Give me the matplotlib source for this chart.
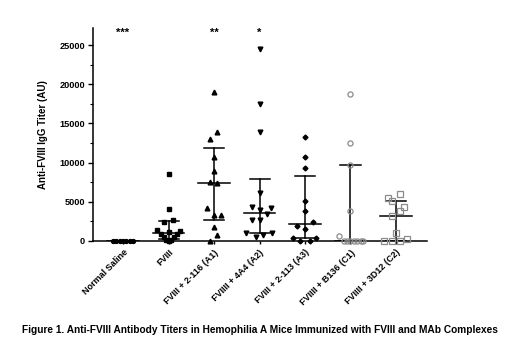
"""Anti-FVIII IgG titers per immunization group (scatter + median/IQR)."""

import matplotlib
matplotlib.use("Agg")
import matplotlib.pyplot as plt
from matplotlib.ticker import MultipleLocator
import numpy as np

plt.rcParams["font.family"] = ["Liberation Sans", "DejaVu Sans"]
plt.rcParams["font.weight"] = "bold"

groups = ["Normal Saline", "FVIII", "FVIII + 2-116 (A1)", "FVIIII + 4A4 (A2)",
          "FVIII + 2-113 (A3)", "FVIIII + B136 (C1)", "FVIIII + 3D12 (C2)"]

# titers (AU), with horizontal scatter offsets (category units)
saline_vals = [0, 0, 0, 0, 0, 0, 0]
saline_off = [-0.22, -0.15, -0.07, 0.0, 0.07, 0.15, 0.22]

fviii_vals = [8500, 4050, 2700, 2400, 1400, 1300, 1150, 900, 850, 500, 450, 150, 100, 50]
fviii_off = [0, 0, 0.09, -0.09, -0.25, 0.26, 0, -0.17, 0.19, -0.1, 0.12, -0.05, 0.05, 0]

a1_vals = [19000, 13860, 12970, 10750, 8970, 7560, 7360, 4170, 3320, 3320, 1820, 730, 0]
a1_off = [0, 0.07, -0.08, 0, 0, -0.08, 0.07, -0.16, 0, 0.16, 0, 0.07, -0.08]

a2_vals = [24450, 17440, 13860, 6080, 4300, 4170, 3950, 3440, 2680, 2680, 1060, 1000, 800, 470]
a2_off = [0, 0, 0, 0, -0.17, 0.26, 0, 0.17, -0.17, 0, -0.3, 0.28, 0.07, -0.08]

a3_vals = [13300, 10750, 9350, 5100, 3870, 2390, 1910, 1500, 420, 420, 0, 0]
a3_off = [0, 0, 0, 0, 0, 0.17, -0.18, 0, -0.26, 0.25, -0.1, 0.1]

c1_vals = [18750, 12460, 9730, 3830, 680, 0, 0, 0, 0, 0, 0, 0]
c1_off = [0, 0, 0, 0, -0.25, -0.15, -0.07, 0, 0.07, 0.15, 0.22, 0.28]

c2_vals = [6000, 5440, 5140, 4380, 3870, 3190, 980, 0, 0, 0, 210]
c2_off = [0.08, -0.18, -0.09, 0.17, 0.08, -0.09, 0, -0.26, -0.09, 0.08, 0.24]

# median and interquartile range drawn in the figure
medians = [0, 1000, 7400, 3600, 2200, 50, 3200]
q1 = [0, 200, 2650, 1050, 350, 0, 0]
q3 = [0, 2550, 11900, 7950, 8300, 9750, 5100]

stars = {0: "***", 2: "**", 3: "*"}

all_vals = [saline_vals, fviii_vals, a1_vals, a2_vals, a3_vals, c1_vals, c2_vals]
all_offs = [saline_off, fviii_off, a1_off, a2_off, a3_off, c1_off, c2_off]

STYLES = [
    dict(marker="o", ms=2.8, mfc="black", mec="black"),
    dict(marker="s", ms=3.5, mfc="black", mec="black"),
    dict(marker="^", ms=3.4, mfc="black", mec="black"),
    dict(marker="v", ms=3.4, mfc="black", mec="black"),
    dict(marker="D", ms=2.5, mfc="black", mec="black"),
    dict(marker="o", ms=3.7, mfc="none", mec="#8c8c8c", mew=0.9),
    dict(marker="s", ms=4.0, mfc="none", mec="#8c8c8c", mew=0.9),
]

fig = plt.figure(figsize=(5.2, 3.57), dpi=100)
ax = fig.add_axes([0.178, 0.325, 0.643, 0.597])

for i, (vals, offs) in enumerate(zip(all_vals, all_offs)):
    xs = i + np.array(offs)
    ax.plot(xs, vals, ls="none", clip_on=False, zorder=3, **STYLES[i])
    # error bar (IQR) with caps and median line
    ax.plot([i, i], [q1[i], q3[i]], color="black", lw=1.1, zorder=2)
    ax.plot([i - 0.22, i + 0.22], [q3[i], q3[i]], color="black", lw=1.1, zorder=2)
    ax.plot([i - 0.22, i + 0.22], [q1[i], q1[i]], color="black", lw=1.1, zorder=2)
    ax.plot([i - 0.35, i + 0.35], [medians[i], medians[i]], color="black", lw=1.1, zorder=2)

for i, s in stars.items():
    ax.text(i, 26600, s, ha="center", va="center", fontsize=8, clip_on=False)

ax.set_xlim(-0.67, 6.68)
ax.set_ylim(0, 27200)
ax.yaxis.set_major_locator(MultipleLocator(5000))
ax.yaxis.set_minor_locator(MultipleLocator(2500))
ax.set_xticks(range(len(groups)))
ax.set_xticklabels(groups, rotation=45, ha="right", rotation_mode="anchor",
                   fontsize=6.5, fontweight="bold")
ax.tick_params(axis="y", labelsize=6.6, length=3.5, width=1.0, pad=2)
ax.tick_params(axis="y", which="minor", length=2, width=0.8)
ax.tick_params(axis="x", length=2, width=1.0, pad=3)
for lbl in ax.get_yticklabels():
    lbl.set_fontweight("bold")

ax.set_ylabel("Anti-FVIII IgG Titer (AU)", fontsize=7, fontweight="bold", labelpad=8)

for side in ["top", "right"]:
    ax.spines[side].set_visible(False)
for side in ["left", "bottom"]:
    ax.spines[side].set_linewidth(1.1)

fig.text(0.499, 0.076, "Figure 1. Anti-FVIII Antibody Titers in Hemophilia A Mice "
         "Immunized with FVIII and MAb Complexes", ha="center", va="center",
         fontsize=7.3, fontweight="bold")

fig.savefig("out.png", dpi=100)
